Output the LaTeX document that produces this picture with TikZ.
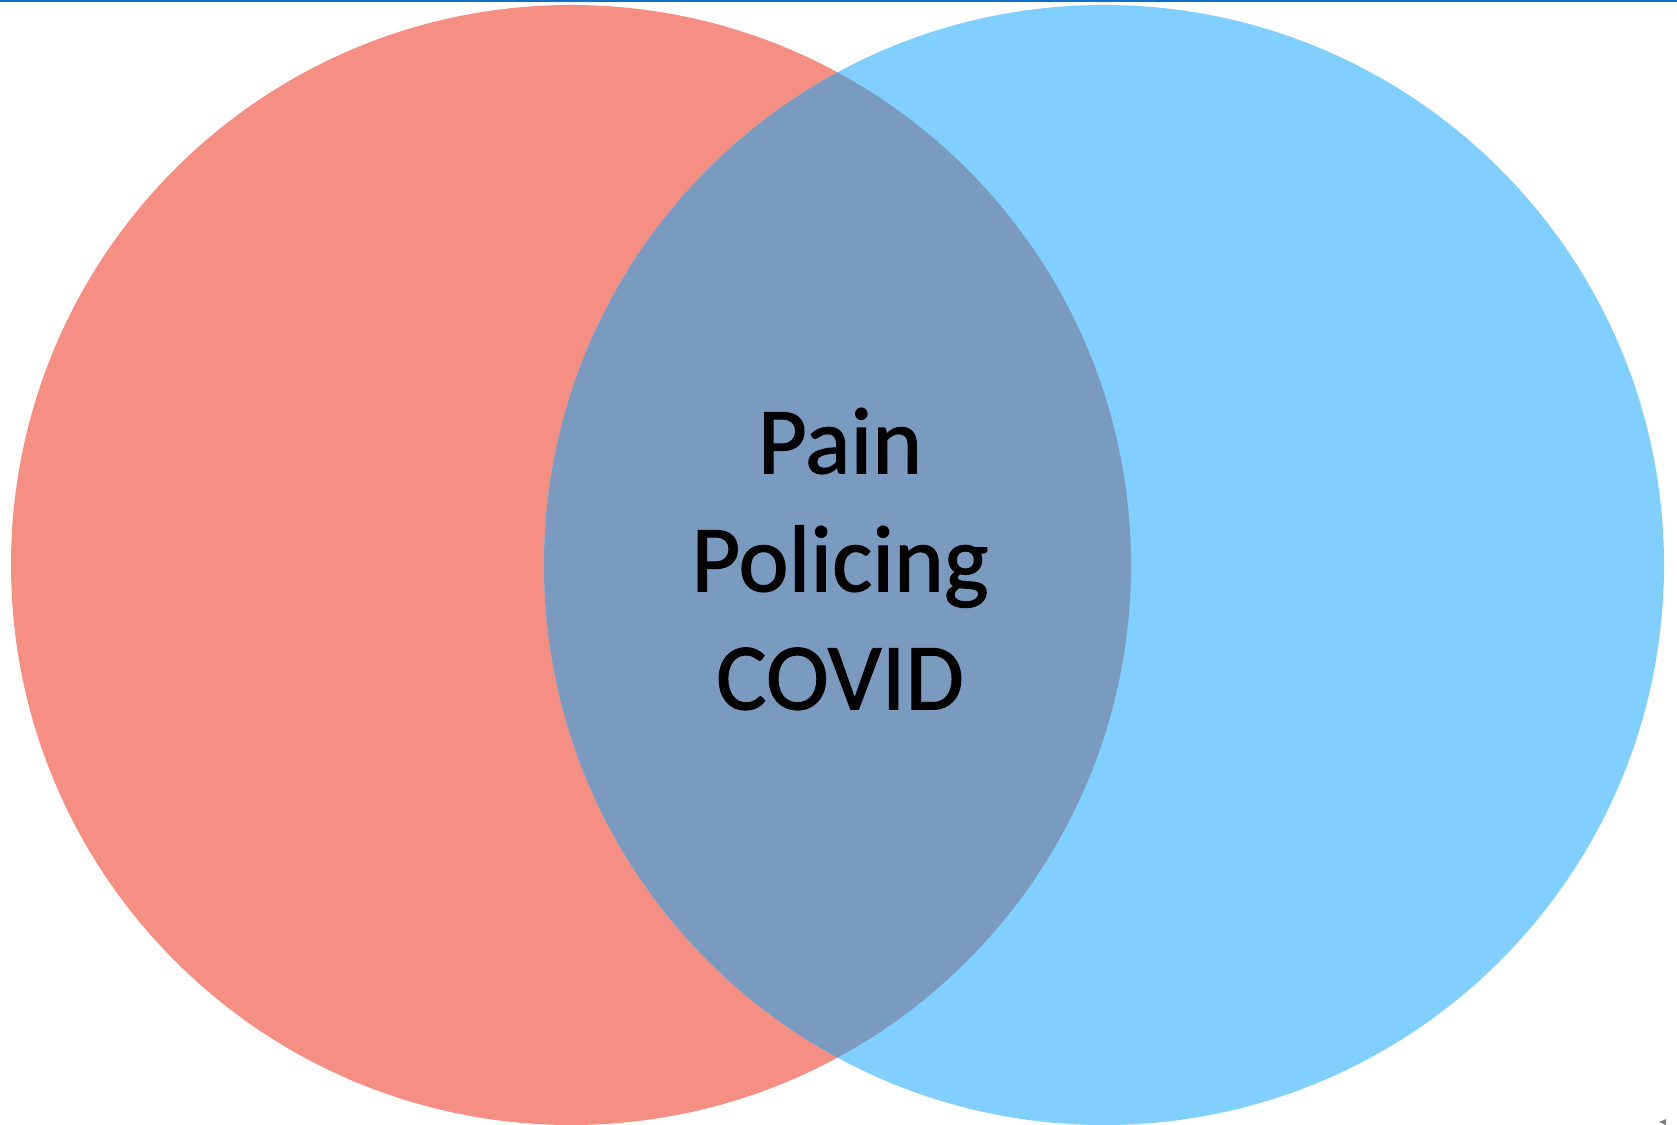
\documentclass[tikz,border=0pt]{standalone}
\usepackage{fontspec}
\setmainfont{Carlito}
\newfontfamily\labelfont[FakeBold=1.2]{Carlito}
\definecolor{leftc}{HTML}{F58F84}
\definecolor{rightc}{HTML}{80CFFF}
\definecolor{midc}{HTML}{7B9AC0}
\definecolor{topline}{HTML}{0F6FC6}
\begin{document}
\begin{tikzpicture}[x=1pt,y=1pt,
  venn/.style={draw=none},
  label/.style={align=center,font=\labelfont\fontsize{95}{118}\selectfont,text=black,inner sep=0pt}]
\useasboundingbox (0,0) rectangle (1677,1124);
\clip (0,0) rectangle (1677,1124);
\fill[white] (0,0) rectangle (1677,1124);
\coordinate (cl) at (571,559);
\coordinate (cr) at (1104,559);
\fill[leftc] (cl) circle[radius=560];
\fill[rightc] (cr) circle[radius=560];
\begin{scope}
  \clip (cl) circle[radius=560];
  \fill[midc] (cr) circle[radius=560];
\end{scope}
\fill[topline] (0,1121.5) rectangle (1677,1124);
\node[label] (txt) at (840,565) {Pain\\Policing\\COVID};
\fill[gray] (1659,2) -- (1666,5) -- (1666,-1) -- cycle;
\end{tikzpicture}
\end{document}
